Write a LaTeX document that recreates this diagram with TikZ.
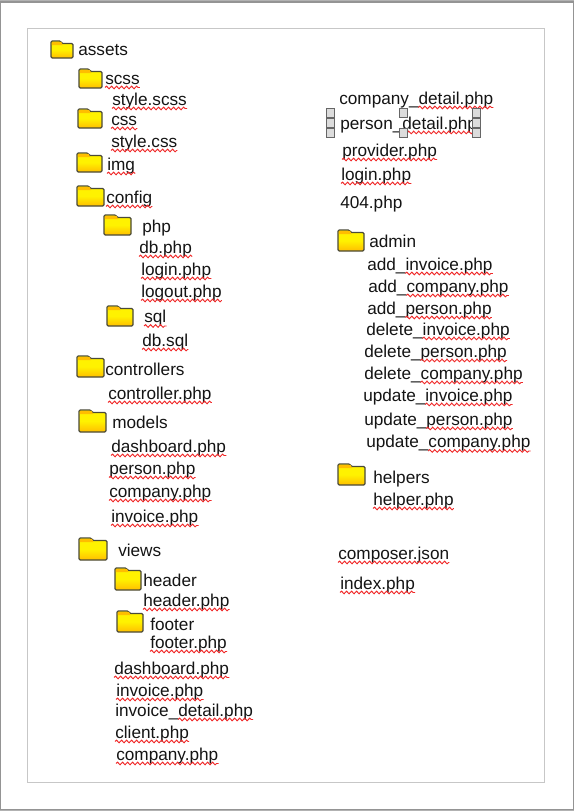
\documentclass[tikz,border=0pt]{standalone}
\usepackage{fontspec}
\setmainfont{Liberation Sans}
\usetikzlibrary{decorations.pathmorphing}
\newcommand\ffont{\normalfont\fontsize{12.9}{15}\selectfont}
\definecolor{wavered}{HTML}{F02828}
\definecolor{foldtop}{HTML}{FFF200}
\definecolor{foldbot}{HTML}{FFBE00}
\definecolor{foldedge}{HTML}{4A4A3A}
\definecolor{hfill}{HTML}{DCDCDC}
\definecolor{hedge}{HTML}{666666}
\tikzset{
  x=0.75pt,y=-0.75pt,
  lab/.style={anchor=base west,inner sep=0pt,font=\ffont,text=black!92},
  wavy/.style={draw=wavered,line width=0.7pt,decorate,decoration={snake,amplitude=1pt,segment length=3.75pt}},
  handle/.style={draw=hedge,fill=hfill,line width=0.6pt,minimum size=6.3pt,inner sep=0pt,outer sep=0pt,rectangle},
  page/.style={draw=black!42,line width=1.2pt,fill=white},
  margin/.style={draw=black!22,line width=0.75pt},
  foldbody/.style={draw=foldedge,line width=0.9pt,rounded corners=0.9pt,top color=foldtop,bottom color=foldbot,middle color=foldtop},
  foldtab/.style={fill=foldbot,draw=none},
}
\newlength\wa
% plain label: name, x, baseline y, text
\newcommand\plain[4]{\node[lab] (#1) at (#2,#3) {#4};}
% label with wavy underline under #5 only: name, x, y, unmarked prefix, marked part
\newcommand\marked[5]{%
  \node[lab] (#1) at (#2,#3) {\setbox0\hbox{#4}\global\wa=\wd0 #4#5};%
  \draw[wavy] ([xshift=\wa,yshift=-2.6pt]#1.base west) -- ([yshift=-2.6pt]#1.base east);}
% folder: name, left, top, width, height
\newcommand\folder[5]{%
  \node[minimum width=#4*0.75pt,minimum height=#5*0.75pt,inner sep=0pt,outer sep=0pt,anchor=north west] (#1) at (#2,#3) {};%
  \path[foldbody] (#1.north west) -- ++(#4*0.44,0) -- ++(#4*0.05,2.5) -- ([yshift=-1.9pt]#1.north east) -- (#1.south east) -- (#1.south west) -- cycle;%
  \fill[foldtab] ([shift={(0.8,0.8)}]#1.north west) -- ++(#4*0.43,0) -- ++(#4*0.06,3.2) -- ++(-#4*0.49,0) -- cycle;}
\begin{document}
\begin{tikzpicture}
\useasboundingbox (0,0) rectangle (574,811);
\fill[black!30] (0,0) rectangle (574,811);
\path[page] (0.7,1.7) rectangle (573.6,809.3);
\path[margin] (27.5,28.5) rectangle (544.5,782.5);
% left column
\folder{fa}{51}{41}{22}{17}\plain{assets}{78}{55}{assets}
\folder{fb}{79}{69}{23}{19}\marked{scss}{105}{84}{}{scss}
\marked{stylescss}{112}{105}{}{style.scss}
\folder{fc}{78}{109}{24}{19}\marked{css}{111}{125}{}{css}
\marked{stylecss}{111}{147}{}{style.css}
\folder{fd}{77}{153}{25}{19}\marked{img}{107}{170}{}{img}
\folder{fe}{77}{186}{27}{20}\marked{config}{106}{203}{}{config}
\folder{ff}{104}{215}{27}{20}\plain{php}{142}{232}{php}
\marked{dbphp}{139}{253}{}{db.php}
\marked{loginphp}{141}{275}{}{login.php}
\marked{logoutphp}{141}{297}{}{logout.php}
\folder{fg}{107}{306}{26}{20}\marked{sql}{144}{322.5}{}{sql}
\marked{dbsql}{142}{346}{}{db.sql}
\folder{fh}{77}{356}{27}{21}\plain{controllers}{105}{375}{controllers}
\marked{controllerphp}{108}{399}{}{controller.php}
\folder{fi}{79}{410}{27}{22}\plain{models}{112}{428}{models}
\marked{mdash}{111}{452}{}{dashboard.php}
\marked{mperson}{109}{474}{}{person.php}
\marked{mcompany}{109}{497}{}{company.php}
\marked{minvoice}{111}{522}{}{invoice.php}
\folder{fj}{79}{538}{28}{22}\plain{views}{118}{556}{views}
\folder{fk}{115}{568}{26}{22}\plain{header}{143}{586}{header}
\marked{headerphp}{143}{606}{}{header.php}
\folder{fl}{117}{611}{26}{21}\plain{footer}{150}{630}{footer}
\marked{footerphp}{150}{648}{}{footer.php}
\marked{vdash}{114}{674}{}{dashboard.php}
\marked{vinvoice}{116}{696}{}{invoice.php}
\marked{vinvdetail}{115}{716}{invoice\_}{detail.php}
\marked{vclient}{115}{738}{}{client.php}
\marked{vcompany}{116}{760}{}{company.php}
% right column
\marked{cdetail}{339}{104}{company\_}{detail.php}
\marked{pdetail}{340}{129}{person\_}{detail.php}
\marked{provider}{342}{156}{}{provider.php}
\marked{rlogin}{341}{180}{}{login.php}
\plain{notfound}{340}{208}{404.php}
\folder{fm}{338}{230}{26}{21}\plain{admin}{369}{247}{admin}
\marked{addinv}{367}{270}{add\_}{invoice.php}
\marked{addcom}{368}{292}{add\_}{company.php}
\marked{addper}{367}{314}{add\_}{person.php}
\marked{delinv}{366}{335}{delete\_}{invoice.php}
\marked{delper}{364}{357}{delete\_}{person.php}
\marked{delcom}{364}{379}{delete\_}{company.php}
\marked{updinv}{363}{401}{update\_}{invoice.php}
\marked{updper}{364}{425}{update\_}{person.php}
\marked{updcom}{366}{447.5}{update\_}{company.php}
\folder{fn}{338}{464}{27}{21}\plain{helpers}{373}{483}{helpers}
\marked{helperphp}{373}{505}{}{helper.php}
\marked{composer}{338}{559}{}{composer.json}
\marked{indexphp}{340}{589}{}{index.php}
% selection handles
\node[handle] (h1) at (330.5,113) {};
\node[handle] (h2) at (330.5,123) {};
\node[handle] (h3) at (330.5,133) {};
\node[handle] (h4) at (403.5,113) {};
\node[handle] (h5) at (403.5,133) {};
\node[handle] (h6) at (476.5,113) {};
\node[handle] (h7) at (476.5,123) {};
\node[handle] (h8) at (476.5,133) {};
\end{tikzpicture}
\end{document}
